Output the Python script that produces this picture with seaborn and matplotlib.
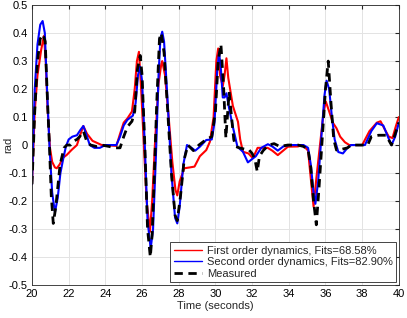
# Measured vs. modelled response, 20-40 s window
import numpy as np
import pandas as pd
import matplotlib
matplotlib.use("Agg")
import matplotlib.pyplot as plt
import seaborn as sns

# Values
t_meas = [20.0, 20.15, 20.3, 20.45, 20.6, 20.72, 20.85, 20.95, 21.05, 21.16, 21.3, 21.53, 21.75, 21.9,
          22.1, 22.3, 22.45, 22.6, 22.8, 23.0, 23.2, 23.5, 23.8, 24.2, 24.5, 24.8, 25.0, 25.2, 25.45,
          25.6, 25.75, 25.9, 26.0, 26.15, 26.3, 26.45, 26.55, 26.7, 26.8, 26.95, 27.05, 27.2, 27.4,
          27.6, 27.8, 27.92, 28.1, 28.3, 28.5, 28.8, 29.1, 29.5, 29.8, 30.0, 30.15, 30.3, 30.45,
          30.57, 30.65, 30.75, 30.85, 31.0, 31.1, 31.3, 31.6, 31.8, 32.0, 32.15, 32.28, 32.4, 32.6,
          32.9, 33.2, 33.5, 33.95, 34.5, 34.8, 35.05, 35.2, 35.35, 35.5, 35.65, 35.8, 36.0, 36.15,
          36.3, 36.45, 36.6, 36.9, 37.2, 37.4, 37.8, 38.3, 38.5, 38.9, 39.3, 39.6, 39.8, 40.0]
y_meas = [-0.14, 0.12, 0.30, 0.38, 0.395, 0.37, 0.15, 0.0, -0.18, -0.28, -0.22, -0.07, -0.01, 0.0,
          0.0, 0.015, 0.02, 0.03, 0.05, 0.01, 0.0, -0.005, 0.0, -0.005, -0.01, -0.01, 0.03, 0.065, 0.085,
          0.12, 0.27, 0.32, 0.25, 0.0, -0.30, -0.40, -0.32, -0.05, 0.15, 0.38, 0.40, 0.33, 0.12,
          -0.10, -0.25, -0.27, -0.18, -0.05, 0.0, -0.02, 0.0, 0.02, 0.03, 0.12, 0.30, 0.36, 0.20,
          0.025, 0.10, 0.19, 0.12, 0.02, -0.005, -0.01, -0.015, -0.015, -0.03, -0.05, -0.095, -0.04, -0.02,
          0.0, 0.005, -0.005, 0.0, 0.0, -0.005, -0.016, -0.08, -0.20, -0.285, -0.15, 0.0, 0.20, 0.30,
          0.15, 0.02, -0.018, -0.015, -0.01, 0.0, 0.0, 0.0, 0.03, 0.035, 0.035, 0.0, 0.04, 0.08]

t_second = [20.0, 20.15, 20.3, 20.45, 20.58, 20.7, 20.82, 20.95, 21.1, 21.25, 21.4, 21.55, 21.7, 21.85,
            22.0, 22.2, 22.45, 22.65, 22.8, 22.95, 23.15, 23.4, 23.7, 24.0, 24.6, 24.8, 25.0, 25.2,
            25.5, 25.65, 25.78, 25.89, 26.0, 26.15, 26.3, 26.47, 26.6, 26.75, 26.9, 27.0, 27.1, 27.2,
            27.4, 27.6, 27.8, 27.92, 28.05, 28.25, 28.45, 28.7, 28.9, 29.15, 29.5, 29.8, 29.95, 30.1,
            30.2, 30.3, 30.4, 30.5, 30.6, 30.75, 30.95, 31.2, 31.5, 31.77, 32.0, 32.2, 32.5, 32.86,
            33.1, 33.4, 33.7, 34.0, 34.5, 34.8, 35.05, 35.2, 35.35, 35.45, 35.6, 35.8, 35.95, 36.06,
            36.2, 36.35, 36.5, 36.7, 36.95, 37.2, 37.4, 38.15, 38.5, 38.8, 39.15, 39.4, 39.6, 39.8, 40.0]
y_second = [-0.14, 0.20, 0.36, 0.43, 0.443, 0.40, 0.20, 0.0, -0.17, -0.24, -0.19, -0.10, -0.05, -0.005,
            0.02, 0.03, 0.035, 0.055, 0.068, 0.04, 0.0, -0.01, -0.01, 0.0, 0.0, 0.03, 0.07, 0.09,
            0.105, 0.15, 0.25, 0.28, 0.23, 0.0, -0.27, -0.37, -0.30, -0.05, 0.25, 0.38, 0.405, 0.37,
            0.15, -0.10, -0.26, -0.28, -0.22, -0.07, 0.0, -0.01, -0.02, -0.006, 0.018, 0.02, 0.08, 0.27,
            0.33, 0.27, 0.17, 0.17, 0.185, 0.13, 0.065, -0.006, -0.024, -0.062, -0.05, -0.04, -0.01, 0.003,
            -0.005, -0.02, -0.005, 0.0, 0.0, 0.0, -0.01, -0.07, -0.17, -0.21, -0.13, 0.05, 0.18, 0.23,
            0.20, 0.10, 0.02, -0.025, -0.03, -0.01, 0.0, 0.0, 0.05, 0.078, 0.07, 0.03, 0.0, 0.03, 0.08]

t_first = [20.0, 20.15, 20.3, 20.5, 20.65, 20.75, 20.85, 20.98, 21.1, 21.25, 21.35, 21.5, 21.7, 21.9,
           22.15, 22.45, 22.65, 22.8, 23.0, 23.3, 23.8, 24.6, 24.8, 25.0, 25.2, 25.45, 25.6, 25.72,
           25.83, 25.95, 26.1, 26.25, 26.43, 26.55, 26.7, 26.9, 27.05, 27.1, 27.25, 27.45, 27.65, 27.82,
           27.92, 28.05, 28.3, 28.6, 28.86, 29.15, 29.5, 29.7, 29.9, 30.05, 30.15, 30.25, 30.4, 30.5,
           30.6, 30.7, 30.95, 31.23, 31.35, 31.5, 31.8, 32.04, 32.3, 32.85, 33.1, 33.4, 33.95, 34.5,
           34.77, 35.05, 35.2, 35.35, 35.5, 35.7, 35.9, 36.02, 36.2, 36.4, 36.6, 36.8, 37.06, 37.3,
           38.0, 38.4, 38.8, 39.0, 39.2, 39.45, 39.65, 39.85, 40.0]
y_first = [-0.14, 0.12, 0.25, 0.34, 0.39, 0.30, 0.13, -0.01, -0.06, -0.08, -0.083, -0.07, -0.045, -0.035,
           -0.018, 0.0, 0.04, 0.068, 0.04, 0.015, 0.0, -0.003, 0.04, 0.08, 0.095, 0.12, 0.20, 0.30,
           0.333, 0.20, 0.0, -0.20, -0.31, -0.20, 0.0, 0.22, 0.29, 0.30, 0.25, 0.10, -0.06, -0.16,
           -0.18, -0.13, -0.083, -0.08, -0.077, -0.04, -0.018, 0.012, 0.10, 0.30, 0.345, 0.25, 0.21, 0.25,
           0.31, 0.24, 0.14, 0.083, 0.02, -0.024, -0.03, -0.047, -0.01, -0.01, -0.02, -0.036, -0.006, -0.005,
           0.0, -0.02, -0.12, -0.22, -0.12, 0.0, 0.12, 0.155, 0.12, 0.08, 0.06, 0.03, 0.01, 0.0,
           0.0, 0.05, 0.08, 0.085, 0.06, 0.03, 0.025, 0.07, 0.10]

labels = ["First order dynamics, Fits=68.58%",
          "Second order dynamics, Fits=82.90%",
          "Measured"]
x_ticks = [20, 22, 24, 26, 28, 30, 32, 34, 36, 38, 40]
y_ticks = [-0.5, -0.4, -0.3, -0.2, -0.1, 0, 0.1, 0.2, 0.3, 0.4, 0.5]

sns.set_style("white")
plt.rcParams['font.family'] = ['Liberation Sans', 'DejaVu Sans']
plt.rcParams['axes.unicode_minus'] = False

first = pd.DataFrame({"t": t_first, "y": y_first})
second = pd.DataFrame({"t": t_second, "y": y_second})
meas = pd.DataFrame({"t": t_meas, "y": y_meas})

fig = plt.figure(figsize=(4.07, 3.18), dpi=100)
ax = fig.add_axes([0.0786, 0.1038, 0.9014, 0.8802])

sns.lineplot(data=first, x="t", y="y", ax=ax, color="#ff0000", lw=1.5, label=labels[0])
sns.lineplot(data=second, x="t", y="y", ax=ax, color="#0000ff", lw=1.5, label=labels[1])
sns.lineplot(data=meas, x="t", y="y", ax=ax, color="black", lw=2.0, label=labels[2],
             dashes=False, linestyle=(0, (3, 2)))

ax.set_xlim(20, 40)
ax.set_ylim(-0.5, 0.5)
ax.set_xticks(x_ticks)
ax.set_yticks(y_ticks)
ax.set_yticklabels([f"{v:g}" for v in y_ticks])
ax.grid(True, color="#e3e3e3", lw=0.7)
ax.tick_params(direction="in", length=3, labelsize=8, colors="#262626",
               top=True, right=True, labelcolor="black", pad=3)
for s in ax.spines.values():
    s.set_color("#262626")
    s.set_linewidth(0.6)
ax.set_xlabel("Time (seconds)", fontsize=8, labelpad=1)
ax.set_ylabel("rad", fontsize=8, labelpad=0)
ax.yaxis.set_label_coords(-0.052, 0.5)

leg = ax.legend(loc="lower right", fontsize=8, frameon=True, fancybox=False, framealpha=1,
                edgecolor="#262626", borderpad=0.3, handlelength=2.6, handletextpad=0.4,
                labelspacing=0.15, borderaxespad=0.25)
leg.get_frame().set_linewidth(0.6)
# thinner model lines inside the legend, like the reference
for h in leg.get_lines()[:2]:
    h.set_linewidth(1.0)

fig.savefig("out.png", dpi=100)
